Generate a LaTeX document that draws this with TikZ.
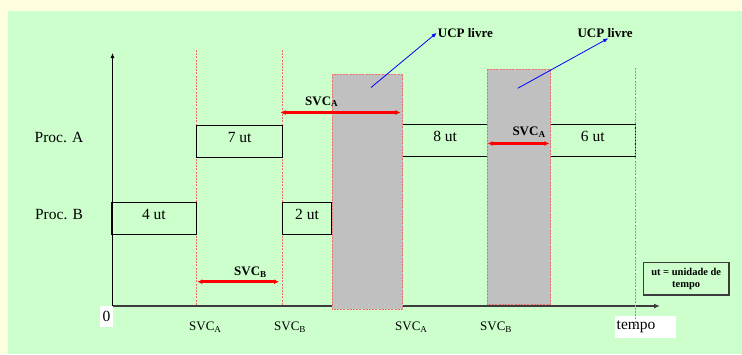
\documentclass[tikz,border=0pt]{standalone}
\usepackage{fontspec}
\setmainfont{Liberation Serif}
\usetikzlibrary{arrows.meta}
\definecolor{bggreen}{RGB}{204,255,204}
\definecolor{bgyellow}{RGB}{255,255,224}
\definecolor{freegray}{RGB}{192,192,192}
\definecolor{guidered}{RGB}{240,110,110}
\definecolor{axisgray}{RGB}{60,60,60}
\begin{document}
\begin{tikzpicture}[x=1pt,y=-1pt,
  bigfont/.style={font=\fontsize{15.5}{18}\selectfont},
  midfont/.style={font=\fontsize{13}{15}\selectfont},
  boldfont/.style={font=\fontsize{13}{15}\selectfont\bfseries},
  tbox/.style={draw=black, line width=0.9pt, inner sep=0pt, text depth=8pt, bigfont},
  guide/.style={draw=guidered, line width=0.6pt, dash pattern=on 2pt off 1.2pt},
  freebox/.style={fill=freegray, draw=guidered, line width=0.6pt, dash pattern=on 2pt off 1.2pt},
  svcarrow/.style={draw=red, line width=2.5pt, {Latex[length=5pt,width=5pt]}-{Latex[length=5pt,width=5pt]}},
  ucparrow/.style={draw=blue, line width=0.8pt, -{Latex[length=5pt,width=4pt]}},
  lbl/.style={inner sep=0pt}
]
\useasboundingbox (0,0) rectangle (742,354);
\fill[bgyellow] (0,0) rectangle (742,354);
\fill[bggreen] (8,11) rectangle (742,354);

% guide lines
\coordinate (g1t) at (196.6,50);  \coordinate (g1b) at (196.6,306);
\coordinate (g2t) at (282.4,50);  \coordinate (g2b) at (282.4,306);
\draw[guide] (g1t) -- (g1b);
\draw[guide] (g2t) -- (g2b);

% zero label
\node[fill=white, inner sep=0pt, minimum width=13pt, minimum height=21pt, bigfont] (zero) at (106.5,316.5) {0};

% axes
\coordinate (orig) at (112.5,306);
\coordinate (ytop) at (112.5,53);
\coordinate (xend) at (660,306);
\draw[black, line width=0.8pt, -{Latex[length=5pt,width=4pt]}] (orig) -- (ytop);
\draw[axisgray, line width=1.4pt, -{Latex[length=6pt,width=5pt]}] (orig) -- (xend);

% process boxes
\node[tbox, minimum width=84.3pt, minimum height=32pt] (b4) at (153.85,218.3) {4 ut};
\node[tbox, minimum width=49.4pt, minimum height=32pt] (b2) at (307,218.3) {2 ut};
\node[tbox, minimum width=85.6pt, minimum height=32pt] (b7) at (239.7,141) {7 ut};
\node[tbox, minimum width=84.8pt, minimum height=32pt] (b8) at (445.1,140.3) {8 ut};
\node[tbox, minimum width=85.6pt, minimum height=32pt] (b6) at (592.8,140.2) {6 ut};

% free CPU blocks
\draw[freebox] (331.9,74) rectangle (402.7,309);
\draw[freebox] (487.4,69.3) rectangle (550.5,304.5);

% row labels
\node[bigfont, lbl] (pa) at (59,137.7) {Proc. A};
\node[bigfont, lbl] (pb) at (59,215) {Proc. B};

% SVC arrows
\coordinate (r1a) at (280.6,112.5); \coordinate (r1b) at (400.4,112.5);
\coordinate (r2a) at (487.7,143.5); \coordinate (r2b) at (549.3,143.5);
\coordinate (r3a) at (197.3,281.7); \coordinate (r3b) at (279,281.7);
\draw[svcarrow] (r1a) -- (r1b);
\draw[svcarrow] (r2a) -- (r2b);
\draw[svcarrow] (r3a) -- (r3b);
\node[boldfont, lbl, anchor=base west] (s1) at (305,105) {SVC\textsubscript{A}};
\node[boldfont, lbl, anchor=base west] (s2) at (512.3,135.7) {SVC\textsubscript{A}};
\node[boldfont, lbl, anchor=base west] (s3) at (234,275.7) {SVC\textsubscript{B}};

% UCP livre
\node[boldfont, inner sep=1pt, anchor=base west] (ucp1) at (436.7,37.3) {UCP livre};
\node[boldfont, inner sep=1pt, anchor=base west] (ucp2) at (576.4,37.3) {UCP livre};
\coordinate (u1s) at (371,87.5);
\coordinate (u2s) at (517.7,88.3);
\coordinate (u2t) at (608.3,38.3);
\draw[ucparrow] (u1s) -- (ucp1.west);
\draw[ucparrow] (u2s) -- (u2t);

% bottom labels
\node[midfont, lbl, anchor=base west] (t1) at (189,330.5) {SVC\textsubscript{A}};
\node[midfont, lbl, anchor=base west] (t2) at (274,330.5) {SVC\textsubscript{B}};
\node[midfont, lbl, anchor=base west] (t3) at (395,330.5) {SVC\textsubscript{A}};
\node[midfont, lbl, anchor=base west] (t4) at (480,330.5) {SVC\textsubscript{B}};

% tempo label
\node[fill=white, inner xsep=1.5pt, inner ysep=0pt, text width=58pt, align=left, minimum height=21.7pt, anchor=north west, bigfont] (tempo) at (615,316) {tempo};
\coordinate (g3t) at (635.6,67.7); \coordinate (g3b) at (635.6,326);
\draw[guide] (g3t) -- (g3b);

% legend
\node[draw=axisgray, line width=1.2pt, minimum width=85.7pt, minimum height=32.3pt, align=center, inner sep=0pt,
  font=\fontsize{10.5}{12.6}\selectfont\bfseries] (legend) at (686.2,278.8) {ut = unidade de\\tempo};
\end{tikzpicture}
\end{document}
